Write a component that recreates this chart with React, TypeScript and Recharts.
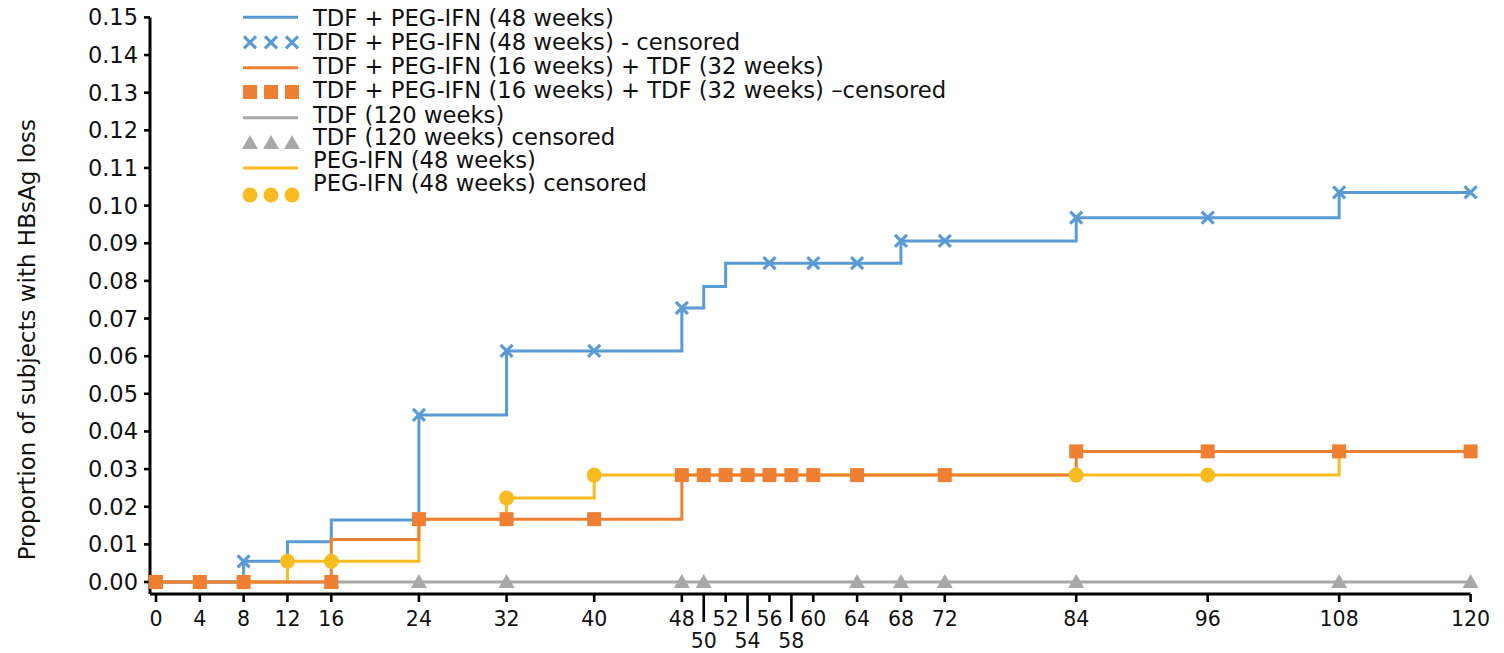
import React from 'react';
import { ComposedChart, Line, Scatter, XAxis, YAxis, Legend } from 'recharts';

const FONT = '"DejaVu Sans", Verdana, sans-serif';
const BLUE = '#5B9BD5';
const ORANGE = '#EF7F32';
const GRAY = '#A8A8A8';
const YELLOW = '#F8BC20';

// Axis ticks
const weekTicks = [0, 4, 8, 12, 16, 24, 32, 40, 48, 50, 52, 54, 56, 58, 60, 64, 68, 72, 84, 96, 108, 120];
const lowWeekTicks = [50, 54, 58];
const proportionTicks = [0, 0.01, 0.02, 0.03, 0.04, 0.05, 0.06, 0.07, 0.08, 0.09, 0.1, 0.11, 0.12, 0.13, 0.14, 0.15];

// TDF + PEG-IFN (48 weeks)
const comboStepWeeks = [0, 8, 12, 16, 24, 32, 48, 50, 52, 68, 84, 108, 120];
const comboStepValues = [0, 0.0055, 0.0107, 0.0165, 0.0444, 0.0614, 0.0728, 0.0785, 0.0847, 0.0906, 0.0968, 0.1035, 0.1035];
const comboCensorWeeks = [8, 24, 32, 40, 48, 56, 60, 64, 68, 72, 84, 96, 108, 120];
const comboCensorValues = [0.0055, 0.0444, 0.0614, 0.0614, 0.0728, 0.0847, 0.0847, 0.0847, 0.0906, 0.0906, 0.0968, 0.0968, 0.1035, 0.1035];

// TDF + PEG-IFN (16 weeks) + TDF (32 weeks)
const switchStepWeeks = [0, 16, 24, 48, 84, 120];
const switchStepValues = [0, 0.0113, 0.0167, 0.0284, 0.0347, 0.0347];
const switchCensorWeeks = [0, 4, 8, 16, 24, 32, 40, 48, 50, 52, 54, 56, 58, 60, 64, 72, 84, 96, 108, 120];
const switchCensorValues = [0, 0, 0, 0, 0.0167, 0.0167, 0.0167, 0.0284, 0.0284, 0.0284, 0.0284, 0.0284, 0.0284, 0.0284, 0.0284, 0.0284, 0.0347, 0.0347, 0.0347, 0.0347];

// TDF (120 weeks)
const tdfStepWeeks = [0, 120];
const tdfStepValues = [0, 0];
const tdfCensorWeeks = [16, 24, 32, 48, 50, 64, 68, 72, 84, 108, 120];
const tdfCensorValues = [0, 0, 0, 0, 0, 0, 0, 0, 0, 0, 0];

// PEG-IFN (48 weeks)
const pegStepWeeks = [0, 12, 24, 32, 40, 108, 120];
const pegStepValues = [0, 0.0055, 0.0167, 0.0223, 0.0284, 0.0347, 0.0347];
const pegCensorWeeks = [0, 4, 8, 12, 16, 32, 40, 84, 96];
const pegCensorValues = [0, 0, 0, 0.0055, 0.0055, 0.0223, 0.0284, 0.0284, 0.0284];

const legendLabels = [
  'TDF + PEG-IFN (48 weeks)',
  'TDF + PEG-IFN (48 weeks) - censored',
  'TDF + PEG-IFN (16 weeks) + TDF (32 weeks)',
  'TDF + PEG-IFN (16 weeks) + TDF (32 weeks) \u2013censored',
  'TDF (120 weeks)',
  'TDF (120 weeks) censored',
  'PEG-IFN (48 weeks)',
  'PEG-IFN (48 weeks) censored',
];

const zip = (w: number[], v: number[]) => w.map((week, i) => ({ week, value: v[i] }));

const comboStep = zip(comboStepWeeks, comboStepValues);
const comboCensor = zip(comboCensorWeeks, comboCensorValues);
const switchStep = zip(switchStepWeeks, switchStepValues);
const switchCensor = zip(switchCensorWeeks, switchCensorValues);
const tdfStep = zip(tdfStepWeeks, tdfStepValues);
const tdfCensor = zip(tdfCensorWeeks, tdfCensorValues);
const pegStep = zip(pegStepWeeks, pegStepValues);
const pegCensor = zip(pegCensorWeeks, pegCensorValues);

const Cross = ({ cx, cy }: any) => (
  <g stroke={BLUE} strokeWidth={3.2}>
    <line x1={cx - 6} y1={cy - 6} x2={cx + 6} y2={cy + 6} />
    <line x1={cx - 6} y1={cy + 6} x2={cx + 6} y2={cy - 6} />
  </g>
);
const Square = ({ cx, cy }: any) => <rect x={cx - 7} y={cy - 7} width={14} height={14} fill={ORANGE} />;
const Tri = ({ cx, cy }: any) => <polygon points={`${cx - 8},${cy + 6} ${cx + 8},${cy + 6} ${cx},${cy - 8}`} fill={GRAY} />;
const Dot = ({ cx, cy }: any) => <circle cx={cx} cy={cy} r={7.5} fill={YELLOW} />;

const XTick = (props: any) => {
  const { x, y, payload } = props;
  const axisY = y - 18;
  const low = lowWeekTicks.includes(payload.value);
  return (
    <g>
      <line x1={x} x2={x} y1={axisY} y2={axisY + (low ? 28 : 8)} stroke="#000" strokeWidth={2.6} />
      <text x={x} y={axisY + (low ? 54 : 32)} textAnchor="middle" fontFamily={FONT} fontSize={20.5} fill="#111">
        {payload.value}
      </text>
    </g>
  );
};

const LegendSvg = () => {
  const symX0 = 235;
  const symX1 = 290;
  const textX = 305;
  const lineYs = [9.3, 59.7, 109.7, 160];
  const markYs = [34.3, 84, 135, 187];
  const textYs = [17.8, 42.2, 66.2, 90.2, 114.5, 136.5, 159.5, 182.8];
  const mxs = [242, 263, 284];
  const colors = [BLUE, ORANGE, GRAY, YELLOW];
  const shapes = [Cross, Square, Tri, Dot];
  return (
    <svg width={1000} height={210} style={{ display: 'block', overflow: 'visible' }}>
      {colors.map((c, i) => (
        <line key={'l' + i} x1={symX0} x2={symX1} y1={lineYs[i]} y2={lineYs[i]} stroke={c} strokeWidth={3} />
      ))}
      {shapes.map((S, i) => (
        <g key={'m' + i}>
          {mxs.map((mx) => (
            <S key={mx} cx={mx} cy={markYs[i]} />
          ))}
        </g>
      ))}
      {legendLabels.map((t, i) => (
        <text key={t} x={textX} y={textYs[i]} fontFamily={FONT} fontSize={22.7} fill="#111">
          {t}
        </text>
      ))}
    </svg>
  );
};

const YTitle = (props: any) => {
  const vb = props.viewBox || { x: 0, y: 0, width: 142, height: 577 };
  const cx = vb.x + 27;
  const cy = vb.y + vb.height / 2 + 34;
  return (
    <text transform={`translate(${cx},${cy}) rotate(-90)`} textAnchor="middle" fontFamily={FONT} fontSize={23} fill="#111">
      Proportion of subjects with HBsAg loss
    </text>
  );
};

export default function App() {
  return (
    <div style={{ width: 1496, height: 645, position: 'relative' }}>
      <ComposedChart width={1496} height={645} margin={{ top: 9.4, right: 33.4, bottom: 0, left: 0 }}>
        <XAxis
          type="number"
          dataKey="week"
          domain={[0, 120]}
          ticks={weekTicks}
          interval={0}
          height={59}
          padding={{ left: 6, right: 0 }}
          tickSize={8}
          tickMargin={10}
          tickLine={false}
          axisLine={{ stroke: '#000', strokeWidth: 3 }}
          tick={<XTick />}
        />
        <YAxis
          type="number"
          dataKey="value"
          domain={[0, 0.15]}
          ticks={proportionTicks}
          interval={0}
          width={142}
          padding={{ top: 0, bottom: 12 }}
          tickSize={6}
          tickMargin={6}
          tickFormatter={(v: number) => v.toFixed(2)}
          tick={{ fontSize: 22.5, fill: '#111', fontFamily: FONT }}
          tickLine={{ stroke: '#000', strokeWidth: 2.6 }}
          axisLine={{ stroke: '#000', strokeWidth: 3 }}
          label={{ content: (p: any) => <YTitle {...p} /> }}
        />
        <Legend
          layout="horizontal"
          verticalAlign="middle"
          align="center"
          wrapperStyle={{ top: 0, left: 0, width: 1000, height: 210 }}
          content={() => <LegendSvg />}
        />
        <Line data={tdfStep} dataKey="value" type="stepAfter" stroke={GRAY} strokeWidth={3} dot={false} activeDot={false} isAnimationActive={false} />
        <Line data={pegStep} dataKey="value" type="stepAfter" stroke={YELLOW} strokeWidth={3} dot={false} activeDot={false} isAnimationActive={false} />
        <Line data={comboStep} dataKey="value" type="stepAfter" stroke={BLUE} strokeWidth={3} dot={false} activeDot={false} isAnimationActive={false} />
        <Line data={switchStep} dataKey="value" type="stepAfter" stroke={ORANGE} strokeWidth={3} dot={false} activeDot={false} isAnimationActive={false} />
        <Scatter data={tdfCensor} dataKey="value" shape={(p: any) => <Tri {...p} />} isAnimationActive={false} />
        <Scatter data={pegCensor} dataKey="value" shape={(p: any) => <Dot {...p} />} isAnimationActive={false} />
        <Scatter data={comboCensor} dataKey="value" shape={(p: any) => <Cross {...p} />} isAnimationActive={false} />
        <Scatter data={switchCensor} dataKey="value" shape={(p: any) => <Square {...p} />} isAnimationActive={false} />
      </ComposedChart>
    </div>
  );
}
